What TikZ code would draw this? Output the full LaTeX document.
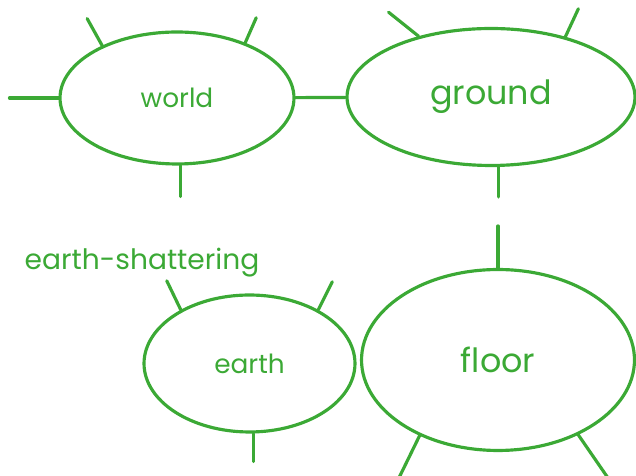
\documentclass[tikz,border=0pt]{standalone}
\usepackage{fontspec}
\setmainfont{Poppins}
\usepackage{tikz}
\usetikzlibrary{shapes.geometric}
\definecolor{Leaf}{HTML}{3BA935}

\begin{document}
\begin{tikzpicture}[x=0.02cm,y=0.02cm,line width=1.8pt,
    bubble/.style={draw=Leaf,ellipse,inner sep=0pt,text=Leaf},
    spoke/.style={draw=Leaf,line cap=round}]
    \useasboundingbox (0,0) rectangle (636,476);
    \node[bubble,minimum width=4.68cm,minimum height=2.64cm,font=\fontsize{15}{17}\selectfont] (world) at (177,378) {world};
    \node[bubble,minimum width=5.76cm,minimum height=2.74cm,font=\fontsize{19}{21}\selectfont] (ground) at (491,379) {ground};
    \node[bubble,minimum width=4.22cm,minimum height=2.74cm,font=\fontsize{15}{17}\selectfont] (earth) at (249.5,112.5) {earth};
    \node[bubble,minimum width=5.46cm,minimum height=3.62cm,font=\fontsize{19}{21}\selectfont] (floor) at (498,116) {floor};
    \node[text=Leaf,font=\fontsize{16}{18}\selectfont] (shatter) at (142,213) {earth-shattering};
    \draw[spoke] (world) -- (ground);
    \draw[spoke] (world.west) -- +(-49,0);
    \foreach \n/\a/\dx/\dy in {world/145/-15/27,world/39/11/25,world/273/0/-31,
        ground/140/-30/24,ground/39/13/28,ground/276/0/-30,
        earth/142/-14/29,earth/38/14/28,earth/273/0/-28,
        floor/224/-22/-45,floor/317/31/-45}
      {\draw[spoke] (\n.\a) -- +(\dx,\dy);}
    \draw[spoke] (floor.north) -- +(0,42);
\end{tikzpicture}
\end{document}
